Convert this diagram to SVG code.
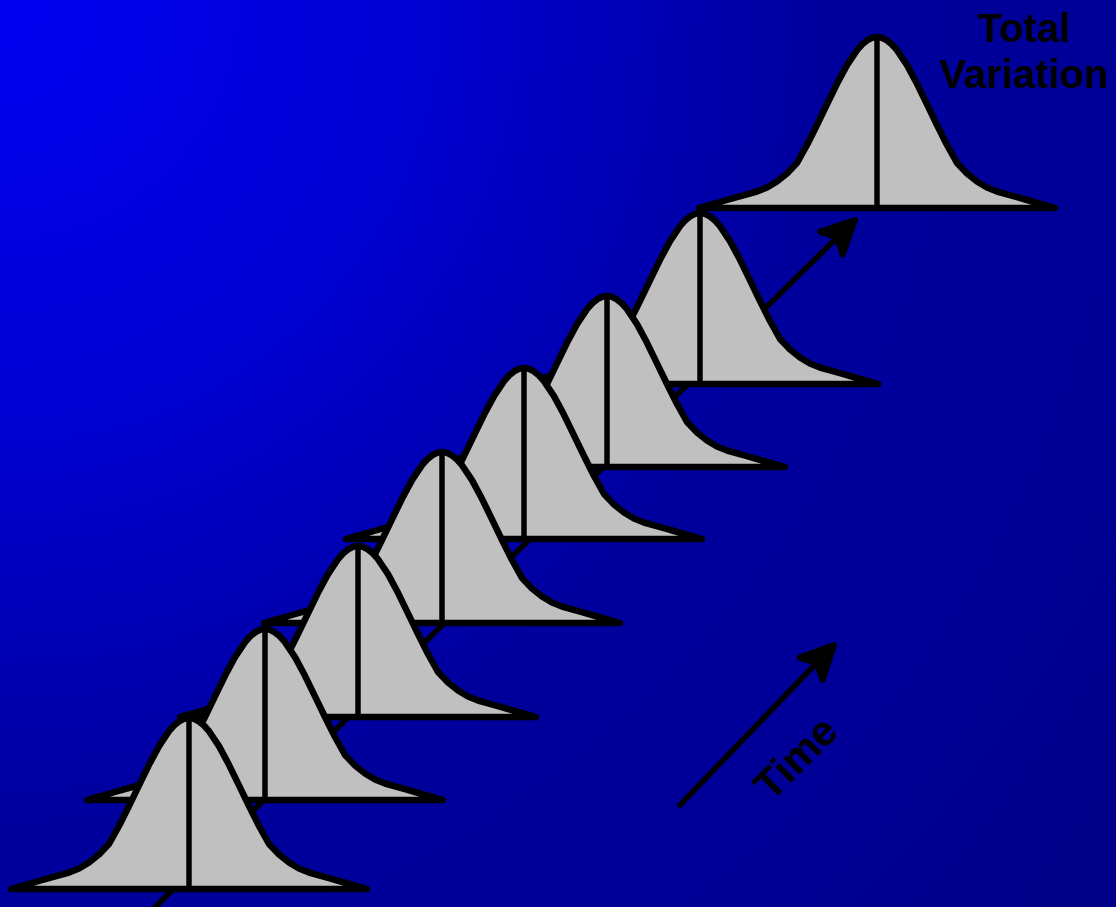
<svg xmlns="http://www.w3.org/2000/svg" width="1116" height="907" viewBox="0 0 1116 907">
<defs>
<radialGradient id="bg" gradientUnits="userSpaceOnUse" cx="0" cy="0" r="1400">
<stop offset="0" stop-color="#0000F2"/>
<stop offset="0.3" stop-color="#0000D2"/>
<stop offset="0.6" stop-color="#00009C"/>
<stop offset="0.8" stop-color="#000097"/>
<stop offset="1" stop-color="#000088"/>
</radialGradient>
<path id="bell" d="M -178 0 L -170 -2.3 L -160 -5.1 L -150 -8 L -140 -10.8 L -130 -13.7 L -120 -16.5 L -110 -20.5 L -100 -26.5 L -90 -34.5 L -80 -45 L -70 -63 L -60 -83 L -50 -103.7 L -40 -124.2 L -30 -142.9 L -20 -157.8 L -15 -163.5 L -10 -167.6 L -5 -170.2 L 0 -171 L 5 -170.2 L 10 -167.6 L 15 -163.5 L 20 -157.8 L 30 -142.9 L 40 -124.2 L 50 -103.7 L 60 -83 L 70 -63 L 80 -45 L 90 -34.5 L 100 -26.5 L 110 -20.5 L 120 -16.5 L 130 -13.7 L 140 -10.8 L 150 -8 L 160 -5.1 L 170 -2.3 L 178 0 Z"/>
<marker id="head" markerUnits="userSpaceOnUse" viewBox="-45 -25 55 50" markerWidth="55" markerHeight="50" refX="0" refY="0" orient="auto">
<path d="M 0 0 L -33 -16 L -25 0 L -33 16 Z" fill="#000" stroke="#000" stroke-width="6" stroke-linejoin="round"/>
</marker>
</defs>
<style>
.bell{fill:#C0C0C0;stroke:#000;stroke-width:6.5;stroke-linejoin:round}
.mid{stroke:#000;stroke-width:5.5;fill:none}
.conn{stroke:#000;stroke-width:5.5;fill:none;stroke-linecap:round}
.lbl{font-family:"Liberation Sans",Arial,sans-serif;font-weight:bold;font-size:40px;fill:#000}
</style>
<rect x="0" y="0" width="1116" height="907" fill="url(#bg)"/>
<g id="connectors">
<path class="conn" d="M 148 914 L 855 220" marker-end="url(#head)"/>
</g>
<g id="total" transform="translate(877,208)"><use href="#bell" class="bell"/><path class="mid" d="M0 -171 V0"/></g>
<g id="c7" transform="translate(700,384)"><use href="#bell" class="bell"/><path class="mid" d="M0 -171 V0"/></g>
<g id="c6" transform="translate(607,467)"><use href="#bell" class="bell"/><path class="mid" d="M0 -171 V0"/></g>
<g id="c5" transform="translate(524,539)"><use href="#bell" class="bell"/><path class="mid" d="M0 -171 V0"/></g>
<g id="c4" transform="translate(442,623)"><use href="#bell" class="bell"/><path class="mid" d="M0 -171 V0"/></g>
<g id="c3" transform="translate(358,717)"><use href="#bell" class="bell"/><path class="mid" d="M0 -171 V0"/></g>
<g id="c2" transform="translate(265,800)"><use href="#bell" class="bell"/><path class="mid" d="M0 -171 V0"/></g>
<g id="c1" transform="translate(189,889)"><use href="#bell" class="bell"/><path class="mid" d="M0 -171 V0"/></g>
<g id="time-arrow">
<path class="conn" d="M 680 805 L 834 645" marker-end="url(#head)"/>
<text class="lbl" transform="translate(806,768) rotate(-45)" text-anchor="middle" style="font-size:42px">Time</text>
</g>
<g id="label-total">
<text class="lbl" x="1024" y="42" text-anchor="middle">Total</text>
<text class="lbl" x="1024" y="88" text-anchor="middle">Variation</text>
</g>
</svg>
